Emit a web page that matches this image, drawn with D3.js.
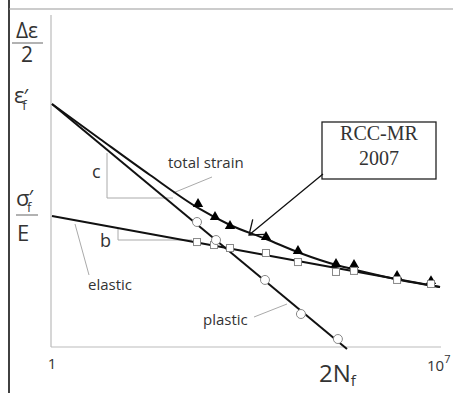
<!DOCTYPE html>
<html>
<head>
<meta charset="utf-8">
<script src="https://cdn.jsdelivr.net/npm/d3@7"></script>
<style>
  body { margin: 0; background: #fff; }
  text { font-family: "Open Sans", sans-serif; fill: #333; }
</style>
</head>
<body>
<div id="chart"></div>
<script>
/* DATA (cycles 2Nf, strain amplitude) */
const elasticLine = [[1, 9.53e-4], [1e7, 8.05e-5]];
const plasticLine = [[1, 0.0469], [2.10e5, 9.3e-6]];
const totalLine = [
  [1, 0.0469], [7.35, 0.01387], [58.6, 3.96e-3], [431, 1.26e-3], [1626, 6.97e-4],
  [7260, 4.28e-4], [29800, 2.63e-4], [1.57e5, 1.67e-4], [3.6e5, 1.41e-4],
  [1.90e6, 1.03e-4], [1e7, 8.05e-5]
];
const elasticPts = [
  [413, 3.85e-4], [837, 3.47e-4], [1626, 3.13e-4], [7260, 2.63e-4], [27400, 1.92e-4],
  [1.33e5, 1.36e-4], [2.81e5, 1.41e-4], [1.68e6, 1.03e-4], [6.88e6, 8.95e-5]
];
const totalPts = [
  [431, 1.445e-3], [873, 9.2e-4], [1626, 6.73e-4], [7260, 4.59e-4], [27400, 2.82e-4],
  [1.33e5, 1.79e-4], [2.81e5, 1.73e-4], [1.68e6, 1.18e-4], [6.88e6, 9.9e-5]
];
const plasticPts = [
  [413, 7.73e-4], [910, 4.13e-4], [6960, 1.03e-4], [31000, 3.15e-5], [1.44e5, 1.32e-5]
];
const xTicks = [1, 1e7];

const width = 453, height = 393;

const svg = d3.select("#chart").append("svg")
  .attr("width", width).attr("height", height);

const x = d3.scaleLog().domain([1, 1e7]).range([52, 440]);
const y = d3.scaleLog().domain([1e-5, 1]).range([347, 16]);

// frame
svg.append("line").attr("x1", 9).attr("x2", 9).attr("y1", 0).attr("y2", height)
  .attr("stroke", "#111").attr("stroke-width", 1.6);
svg.append("line").attr("x1", 9).attr("x2", width).attr("y1", 9).attr("y2", 9)
  .attr("stroke", "#999").attr("stroke-width", 1.2);

// axes (plain gray lines)
svg.append("line").attr("x1", 51).attr("x2", 51).attr("y1", 15).attr("y2", y(1e-5))
  .attr("stroke", "#bbb").attr("stroke-width", 1.2);
svg.append("line").attr("x1", 51).attr("x2", 441).attr("y1", y(1e-5)).attr("y2", y(1e-5))
  .attr("stroke", "#bbb").attr("stroke-width", 1.2);

// x tick labels
svg.append("text").attr("x", x(xTicks[0])).attr("y", 369).attr("text-anchor", "middle")
  .attr("font-size", 15).text("1");
const t7 = svg.append("text").attr("x", x(xTicks[1]) - 13).attr("y", 371).attr("font-size", 15);
t7.append("tspan").text("10");
t7.append("tspan").attr("dy", -8).attr("font-size", 11).text("7");

// annotation thin gray lines (slope triangles and leaders)
const gray = [
  [[107, 153], [107, 198], [173, 198]],   // c
  [[118, 228], [118, 240], [192, 240]],   // b
  [[173, 193], [212, 177]],               // total strain leader
  [[75, 224], [89, 275]],                 // elastic leader
  [[254, 317], [287, 304]]                // plastic leader
];
svg.selectAll(".gl").data(gray).join("path")
  .attr("class", "gl")
  .attr("d", d => d3.line()(d))
  .attr("fill", "none").attr("stroke", "#aaa").attr("stroke-width", 1);

// data lines
const line = d3.line().x(d => x(d[0])).y(d => y(d[1]));
svg.append("path").datum(elasticLine).attr("d", line)
  .attr("fill", "none").attr("stroke", "#111").attr("stroke-width", 2);
svg.append("path").datum(plasticLine).attr("d", line)
  .attr("fill", "none").attr("stroke", "#111").attr("stroke-width", 2);
svg.append("path").datum(totalLine).attr("d", line.curve(d3.curveMonotoneX))
  .attr("fill", "none").attr("stroke", "#111").attr("stroke-width", 2);

// markers
svg.selectAll(".tri").data(totalPts).join("path")
  .attr("class", "tri")
  .attr("transform", d => `translate(${x(d[0])},${y(d[1])})`)
  .attr("d", d3.symbol(d3.symbolTriangle, 46))
  .attr("fill", "#000");
svg.selectAll(".sq").data(elasticPts).join("rect")
  .attr("class", "sq")
  .attr("x", d => x(d[0]) - 3.5).attr("y", d => y(d[1]) - 3.5)
  .attr("width", 7).attr("height", 7)
  .attr("fill", "#fff").attr("stroke", "#888").attr("stroke-width", 1);
svg.selectAll(".ci").data(plasticPts).join("circle")
  .attr("class", "ci")
  .attr("cx", d => x(d[0])).attr("cy", d => y(d[1])).attr("r", 4.5)
  .attr("fill", "#fff").attr("stroke", "#888").attr("stroke-width", 1);

// curve labels
svg.append("text").attr("x", 168).attr("y", 168).attr("font-size", 15).text("total strain");
svg.append("text").attr("x", 88).attr("y", 290).attr("font-size", 15).text("elastic");
svg.append("text").attr("x", 203).attr("y", 325).attr("font-size", 15).text("plastic");
svg.append("text").attr("x", 92).attr("y", 178).attr("font-size", 18).text("c");
svg.append("text").attr("x", 100).attr("y", 247).attr("font-size", 18).text("b");

// y-axis labels
const dl = svg.append("text").attr("x", 27).attr("y", 38).attr("text-anchor", "middle")
  .attr("font-size", 21);
dl.append("tspan").text("Δε");
dl.append("tspan").attr("x", 27).attr("dy", 24).text("2");
svg.append("line").attr("x1", 12).attr("x2", 43).attr("y1", 43).attr("y2", 43)
  .attr("stroke", "#999").attr("stroke-width", 1.5);

const ef = svg.append("text").attr("x", 14).attr("y", 103).attr("font-size", 22);
ef.append("tspan").text("ε");
ef.append("tspan").attr("font-size", 20).attr("dx", -1).text("′");
ef.append("tspan").attr("font-size", 13).attr("dx", -6).attr("dy", 7).text("f");

const sf = svg.append("text").attr("x", 16).attr("y", 206).attr("font-size", 22);
sf.append("tspan").text("σ");
sf.append("tspan").attr("font-size", 20).attr("dx", -1).attr("dy", -2).text("′");
sf.append("tspan").attr("font-size", 13).attr("dx", -6).attr("dy", 8).text("f");
sf.append("tspan").attr("x", 17).attr("y", 241).text("E");
svg.append("line").attr("x1", 16).attr("x2", 38).attr("y1", 215).attr("y2", 215)
  .attr("stroke", "#999").attr("stroke-width", 1.5);

// x-axis title
const xt = svg.append("text").attr("x", 319).attr("y", 382).attr("font-size", 24);
xt.append("tspan").text("2N");
xt.append("tspan").attr("dy", 4).attr("font-size", 15).text("f");

// RCC-MR box and arrow
svg.append("rect").attr("x", 322).attr("y", 122).attr("width", 114).attr("height", 57)
  .attr("fill", "#fff").attr("stroke", "#222").attr("stroke-width", 1.3);
const rcc = svg.append("text").attr("x", 379).attr("y", 140).attr("text-anchor", "middle")
  .style("font-family", "'Liberation Serif', serif").attr("font-size", 20);
rcc.append("tspan").text("RCC-MR");
rcc.append("tspan").attr("x", 379).attr("dy", 25).text("2007");

const tail = [323, 174], tip = [249, 235];
const ang = Math.atan2(tail[1] - tip[1], tail[0] - tip[0]);
const head = [-37, 37].map(a => {
  const r = ang + a * Math.PI / 180;
  return [tip[0] + 16 * Math.cos(r), tip[1] + 16 * Math.sin(r)];
});
svg.append("path")
  .attr("d", d3.line()([tail, tip]) + d3.line()([head[0], tip, head[1]]))
  .attr("fill", "none").attr("stroke", "#111").attr("stroke-width", 1.3);
</script>
</body>
</html>
